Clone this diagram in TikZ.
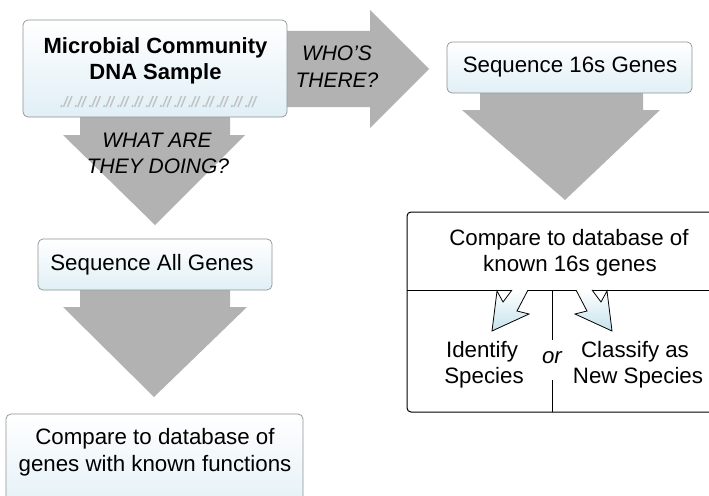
\documentclass[tikz,border=0pt]{standalone}
\usepackage{fontspec}
\setmainfont{Liberation Sans}
\definecolor{arrowgray}{RGB}{178,178,178}
\definecolor{boxline}{RGB}{145,145,145}
\definecolor{boxblue}{RGB}{224,239,246}
\definecolor{tipblue}{RGB}{196,226,236}
\definecolor{dnagray}{RGB}{192,194,196}
\begin{document}
\begin{tikzpicture}[x=1pt,y=-1pt,
  flow/.style={fill=arrowgray,draw=none},
  stepbox/.style={draw=boxline,line width=0.7pt,rounded corners=5pt,
    top color=white,bottom color=boxblue,inner sep=0pt},
  plainbox/.style={draw=black,line width=1pt,rounded corners=4pt,fill=white,inner sep=0pt},
  body/.style={anchor=base,inner sep=0pt,font=\fontsize{22.3}{26}\selectfont},
  title/.style={anchor=base,inner sep=0pt,font=\fontsize{22}{26}\selectfont\bfseries},
  ask/.style={anchor=base,inner sep=0pt,font=\fontsize{21}{26}\selectfont\itshape},
  pick/.style={draw=black,line width=0.8pt,line join=miter,top color=white,bottom color=tipblue},
  strand/.style={draw=dnagray,line width=1.4pt},
]
\useasboundingbox (0,0) rectangle (709,495);

% big grey block arrows (drawn first, boxes sit on top)
\fill[flow] (80,110) -- (230,110) -- (230,135) -- (245,135) -- (155,225)
  -- (63,135) -- (80,135) -- cycle;
\fill[flow] (280,31) -- (370,31) -- (370,10) -- (429,69) -- (370,128)
  -- (370,107) -- (280,107) -- cycle;
\fill[flow] (480,90) -- (643,90) -- (643,110) -- (660,110) -- (565,200)
  -- (462,110) -- (480,110) -- cycle;
\fill[flow] (80,288) -- (230,288) -- (230,307) -- (247,307) -- (154,397)
  -- (63,307) -- (80,307) -- cycle;

% boxes
\node[stepbox,minimum width=264pt,minimum height=97pt] (sample) at (155,68.5) {};
\node[stepbox,minimum width=245pt,minimum height=51pt] (seq16) at (569.5,67.5) {};
\node[stepbox,minimum width=234pt,minimum height=51pt] (seqall) at (155,264.5) {};
\node[stepbox,minimum width=297pt,minimum height=106pt] (cmpfun) at (154.5,467) {};
\node[plainbox,minimum width=328pt,minimum height=200pt] (cmp16) at (571,312) {};

% DNA strand marks along the sample box
\foreach \k in {0,...,13} {
  \pgfmathsetmacro{\xo}{61+14.2*\k}
  \draw[strand] (\xo,107) -- (\xo+1,105);
  \draw[strand] (\xo+2.5,107) -- (\xo+7,96);
  \draw[strand] (\xo+6.5,107) -- (\xo+11,96);
}

% labels
\node[title] (t1a) at (155.5,53) {Microbial Community};
\node[title] (t1b) at (155.5,79) {DNA Sample};
\node[ask] (q1a) at (337,60) {WHO’S};
\node[ask] (q1b) at (337,87) {THERE?};
\node[ask] (q2a) at (157,147) {WHAT ARE};
\node[ask] (q2b) at (158,173) {THEY DOING?};
\node[body] (t2) at (570,72) {Sequence 16s Genes};
\node[body] (t3) at (152,270) {Sequence All Genes};
\node[body] (t4a) at (155,444) {Compare to database of};
\node[body] (t4b) at (155,471) {genes with known functions};
\node[body] (t5a) at (569,245) {Compare to database of};
\node[body] (t5b) at (570,271) {known 16s genes};

% dividers of the 16s comparison box
\coordinate (dl) at (407,290);
\coordinate (dr) at (735,290);
\draw[line width=1pt] (dl) -- (dr);
\coordinate (vtop) at (552,290);
\coordinate (vgapa) at (552,340);
\coordinate (vgapb) at (552,380);
\coordinate (vbot) at (552,412);
\draw[line width=1pt] (vtop) -- (vgapa);
\draw[line width=1pt] (vgapb) -- (vbot);

% small hollow arrows to the two outcomes
\draw[pick] (512,290) -- (503,302) -- (497,291) -- (492,331) -- (529,314)
  -- (517,311) -- (528,290);
\draw[pick] (592,290) -- (601,302) -- (607,291) -- (612,331) -- (575,314)
  -- (587,311) -- (576,290);

\node[body] (t6a) at (482,357) {Identify};
\node[body] (t6b) at (484,383) {Species};
\node[ask,font=\fontsize{22.3}{26}\selectfont\itshape] (orr) at (552,363) {or};
\node[body] (t7a) at (635,357) {Classify as};
\node[body] (t7b) at (638,383) {New Species};
\end{tikzpicture}
\end{document}
